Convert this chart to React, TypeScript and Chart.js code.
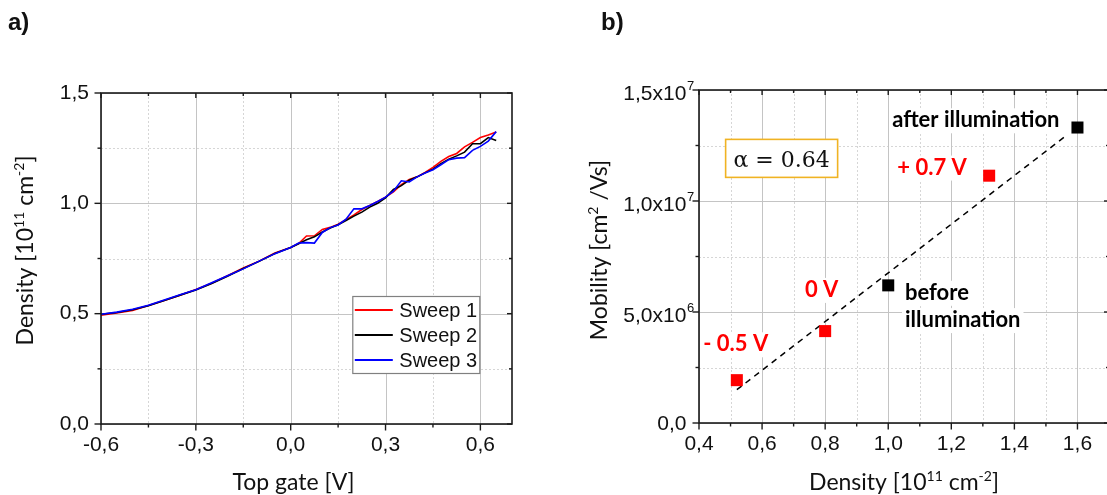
import React, { useEffect, useRef } from "react";
import { Chart, registerables } from "chart.js";

Chart.register(...registerables);

// ---------------- Panel a) data ----------------
const gateVoltage = [
  -0.6, -0.55, -0.5, -0.45, -0.4, -0.35, -0.3, -0.25, -0.2, -0.15, -0.1, -0.05, 0,
  0.025, 0.05, 0.075, 0.1, 0.125, 0.15, 0.175, 0.2, 0.225, 0.25, 0.275, 0.3, 0.325,
  0.35, 0.375, 0.4, 0.425, 0.45, 0.475, 0.5, 0.525, 0.55, 0.575, 0.6, 0.625, 0.65,
];
const sweep1 = [
  0.493, 0.503, 0.515, 0.537, 0.56, 0.583, 0.609, 0.638, 0.672, 0.707, 0.738, 0.775, 0.8,
  0.818, 0.852, 0.853, 0.882, 0.891, 0.905, 0.926, 0.947, 0.972, 0.99, 1.008, 1.028, 1.052,
  1.085, 1.108, 1.12, 1.14, 1.163, 1.19, 1.212, 1.226, 1.256, 1.276, 1.298, 1.31, 1.323,
];
const sweep2 = [
  0.497, 0.505, 0.518, 0.536, 0.56, 0.584, 0.607, 0.637, 0.67, 0.705, 0.737, 0.773, 0.8,
  0.817, 0.835, 0.848, 0.87, 0.888, 0.903, 0.922, 0.942, 0.96, 0.983, 1.0, 1.025, 1.063,
  1.08, 1.105, 1.12, 1.138, 1.155, 1.18, 1.2, 1.215, 1.232, 1.27, 1.27, 1.298, 1.285,
];
const sweep3 = [
  0.497, 0.507, 0.52, 0.538, 0.562, 0.586, 0.608, 0.64, 0.672, 0.703, 0.738, 0.772, 0.8,
  0.82, 0.822, 0.82, 0.868, 0.89, 0.902, 0.928, 0.975, 0.975, 0.99, 1.008, 1.028, 1.055,
  1.102, 1.097, 1.12, 1.137, 1.152, 1.175, 1.198, 1.205, 1.207, 1.24, 1.258, 1.282, 1.325,
];
const sweepLabels = ["Sweep 1", "Sweep 2", "Sweep 3"];
const sweepColors = ["#ff0000", "#000000", "#0000ff"];
const gateMajorTicks = [-0.6, -0.3, 0, 0.3, 0.6];
const gateMinorTicks = [-0.45, -0.15, 0.15, 0.45];
const densityMajorTicksA = [0, 0.5, 1.0, 1.5];
const densityMinorTicksA = [0.25, 0.75, 1.25];

// ---------------- Panel b) data ----------------
const redDensity = [0.52, 0.8, 1.32];
const redMobility = [1.93e6, 4.14e6, 1.114e7];
const blackDensity = [1.0, 1.6];
const blackMobility = [6.2e6, 1.331e7];
const fitDensity = [0.52, 1.56];
const fitMobility = [1.5e6, 1.29e7];
const densityMajorTicksB = [0.4, 0.6, 0.8, 1.0, 1.2, 1.4, 1.6];
const densityMinorTicksB = [0.5, 0.7, 0.9, 1.1, 1.3, 1.5];
const mobilityMajorTicks = [0, 5e6, 1e7, 1.5e7];
const mobilityMinorTicks = [2.5e6, 7.5e6, 1.25e7];
const mobilityTickMantissa = ["0,0", "5,0x10", "1,0x10", "1,5x10"];
const mobilityTickExponent = ["", "6", "7", "7"];

const TICK_FONT = "'Liberation Sans', Arial, sans-serif";
const TITLE_FONT = "Lato, 'Open Sans', sans-serif";
const TICK_SIZE = 21;

type Seg = { t: string; sup?: boolean };

function drawRich(
  ctx: CanvasRenderingContext2D,
  segs: Seg[],
  x: number,
  y: number,
  align: "left" | "center" | "right",
  size: number,
  supSize: number,
  rise: number,
  family: string,
  weight = ""
) {
  const fMain = `${weight} ${size}px ${family}`;
  const fSup = `${weight} ${supSize}px ${family}`;
  let total = 0;
  const widths = segs.map((s) => {
    ctx.font = s.sup ? fSup : fMain;
    const w = ctx.measureText(s.t).width;
    total += w;
    return w;
  });
  let cx = align === "center" ? x - total / 2 : align === "right" ? x - total : x;
  ctx.textAlign = "left";
  ctx.textBaseline = "alphabetic";
  segs.forEach((s, i) => {
    ctx.font = s.sup ? fSup : fMain;
    ctx.fillText(s.t, cx, s.sup ? y - rise : y);
    cx += widths[i];
  });
}

function line(ctx: CanvasRenderingContext2D, x1: number, y1: number, x2: number, y2: number) {
  ctx.beginPath();
  ctx.moveTo(x1, y1);
  ctx.lineTo(x2, y2);
  ctx.stroke();
}

type FrameCfg = {
  id: string;
  xMajor: number[];
  xMinor: number[];
  yMajor: number[];
  yMinor: number[];
  xTitle: Seg[];
  yTitle: Seg[];
  xTitleShift: number;
  xTitleDrop: number;
  yTitleGap: number;
  yTitleShift: number;
  extra?: (chart: any) => void;
};

function makeFramePlugin(cfg: FrameCfg) {
  return {
    id: cfg.id,
    beforeDatasetsDraw(chart: any) {
      const { ctx, chartArea, scales } = chart;
      const { left, right, top, bottom } = chartArea;
      const xs = scales.x;
      const ys = scales.y;
      ctx.save();
      ctx.lineWidth = 1;
      ctx.strokeStyle = "#d6d6d6";
      ctx.setLineDash([2, 2]);
      cfg.xMinor.forEach((v) => {
        const px = Math.round(xs.getPixelForValue(v)) + 0.5;
        line(ctx, px, top, px, bottom);
      });
      cfg.yMinor.forEach((v) => {
        const py = Math.round(ys.getPixelForValue(v)) + 0.5;
        line(ctx, left, py, right, py);
      });
      ctx.setLineDash([]);
      ctx.strokeStyle = "#c4c4c4";
      cfg.xMajor.forEach((v) => {
        const px = Math.round(xs.getPixelForValue(v)) + 0.5;
        line(ctx, px, top, px, bottom);
      });
      cfg.yMajor.forEach((v) => {
        const py = Math.round(ys.getPixelForValue(v)) + 0.5;
        line(ctx, left, py, right, py);
      });
      ctx.restore();
    },
    afterDatasetsDraw(chart: any) {
      const { ctx, chartArea, scales } = chart;
      const { left, right, top, bottom } = chartArea;
      const xs = scales.x;
      const ys = scales.y;
      ctx.save();
      ctx.strokeStyle = "#1a1a1a";
      ctx.lineWidth = 1.6;
      ctx.strokeRect(left, top, right - left, bottom - top);
      ctx.lineWidth = 1.4;
      cfg.xMajor.forEach((v) => {
        const px = xs.getPixelForValue(v);
        line(ctx, px, bottom, px, bottom + 6.5);
        line(ctx, px, top, px, top + 5);
      });
      cfg.xMinor.forEach((v) => {
        const px = xs.getPixelForValue(v);
        line(ctx, px, bottom, px, bottom + 3.5);
        line(ctx, px, top, px, top + 3);
      });
      cfg.yMajor.forEach((v) => {
        const py = ys.getPixelForValue(v);
        line(ctx, left - 6.5, py, left, py);
        line(ctx, right - 5, py, right, py);
      });
      cfg.yMinor.forEach((v) => {
        const py = ys.getPixelForValue(v);
        line(ctx, left - 3.5, py, left, py);
        line(ctx, right - 3, py, right, py);
      });

      ctx.fillStyle = "#111";
      drawRich(
        ctx,
        cfg.xTitle,
        (left + right) / 2 + cfg.xTitleShift,
        bottom + cfg.xTitleDrop,
        "center",
        23,
        14,
        9,
        TITLE_FONT
      );
      ctx.save();
      ctx.translate(left - cfg.yTitleGap, (top + bottom) / 2 + cfg.yTitleShift);
      ctx.rotate(-Math.PI / 2);
      drawRich(ctx, cfg.yTitle, 0, 0, "center", 23, 14, 9, TITLE_FONT);
      ctx.restore();

      if (cfg.extra) cfg.extra(chart);
      ctx.restore();
    },
  };
}

const fmtTick = (v: any) => Number(v).toFixed(1).replace(".", ",");

export default function App() {
  const refA = useRef<HTMLCanvasElement>(null);
  const refB = useRef<HTMLCanvasElement>(null);

  useEffect(() => {
    const sweeps = [sweep1, sweep2, sweep3];

    const legendA = (chart: any) => {
      const { ctx, chartArea } = chart;
      const bx = chartArea.right - 159.7;
      const by = chartArea.top + 203;
      const bw = 127;
      const bh = 77;
      ctx.fillStyle = "#ffffff";
      ctx.fillRect(bx, by, bw, bh);
      ctx.strokeStyle = "#808080";
      ctx.lineWidth = 1.2;
      ctx.strokeRect(bx + 0.5, by + 0.5, bw, bh);
      chart.data.datasets.forEach((ds: any, i: number) => {
        const ry = by + 14 + i * 25;
        ctx.strokeStyle = ds.borderColor;
        ctx.lineWidth = 2;
        line(ctx, bx + 2.5, ry, bx + 40.5, ry);
        ctx.fillStyle = "#111";
        ctx.font = `20px ${TICK_FONT}`;
        ctx.textAlign = "left";
        ctx.textBaseline = "middle";
        ctx.fillText(ds.label, bx + 47, ry + 1);
      });
    };

    const pluginA = makeFramePlugin({
      id: "frameA",
      xMajor: gateMajorTicks,
      xMinor: gateMinorTicks,
      yMajor: densityMajorTicksA,
      yMinor: densityMinorTicksA,
      xTitle: [{ t: "Top gate [V]" }],
      yTitle: [{ t: "Density [10" }, { t: "11", sup: true }, { t: " cm" }, { t: "-2", sup: true }, { t: "]" }],
      xTitleShift: -13,
      xTitleDrop: 65.5,
      yTitleGap: 68,
      yTitleShift: -8,
      extra: legendA,
    });

    const chartA = new Chart(refA.current as HTMLCanvasElement, {
      type: "line",
      data: {
        datasets: sweeps.map((s, i) => ({
          label: sweepLabels[i],
          data: gateVoltage.map((v, j) => ({ x: v, y: s[j] })),
          borderColor: sweepColors[i],
          backgroundColor: sweepColors[i],
          borderWidth: 1.6,
          pointRadius: 0,
          tension: 0,
          fill: false,
          order: 3 - i,
        })),
      },
      options: {
        animation: false,
        responsive: false,
        devicePixelRatio: 1,
        layout: { padding: { left: 0, right: 48, top: 93, bottom: 0 } },
        plugins: { legend: { display: false }, tooltip: { enabled: false } },
        scales: {
          x: {
            type: "linear",
            min: -0.6,
            max: 0.7,
            grid: { display: false, drawTicks: false },
            border: { display: false },
            afterBuildTicks: (axis: any) => {
              axis.ticks = gateMajorTicks.map((v) => ({ value: v }));
            },
            afterFit: (axis: any) => {
              axis.height = 71;
            },
            ticks: {
              autoSkip: false,
              maxRotation: 0,
              padding: 9,
              color: "#111",
              font: { family: TICK_FONT, size: TICK_SIZE },
              callback: fmtTick,
            },
          },
          y: {
            type: "linear",
            min: 0,
            max: 1.5,
            grid: { display: false, drawTicks: false },
            border: { display: false },
            afterBuildTicks: (axis: any) => {
              axis.ticks = densityMajorTicksA.map((v) => ({ value: v }));
            },
            afterFit: (axis: any) => {
              axis.width = 101;
            },
            ticks: {
              autoSkip: false,
              padding: 12,
              color: "#111",
              font: { family: TICK_FONT, size: TICK_SIZE },
              callback: fmtTick,
            },
          },
        },
      },
      plugins: [pluginA],
    } as any);

    const notes = [
      { text: "after illumination", x: 1.543, y: 1.332e7, align: "right", color: "#000000" },
      { text: "+ 0.7 V", x: 1.249, y: 1.119e7, align: "right", color: "#ff0000" },
      { text: "0 V", x: 0.789, y: 5.68e6, align: "center", color: "#ff0000" },
      { text: "- 0.5 V", x: 0.5165, y: 3.23e6, align: "center", color: "#ff0000" },
      { text: "before", x: 1.053, y: 5.55e6, align: "left", color: "#000000" },
      { text: "illumination", x: 1.053, y: 4.32e6, align: "left", color: "#000000" },
    ];

    const extraB = (chart: any) => {
      const { ctx, chartArea, scales } = chart;
      const xs = scales.x;
      const ys = scales.y;
      // y tick labels with superscript exponents
      ctx.fillStyle = "#111";
      mobilityMajorTicks.forEach((v, i) => {
        const py = ys.getPixelForValue(v);
        const mx = chartArea.left - 12.6;
        const exp = mobilityTickExponent[i];
        const base = exp ? py + 10 : py + 7.4;
        ctx.textBaseline = "alphabetic";
        ctx.textAlign = "right";
        ctx.font = `${TICK_SIZE}px ${TICK_FONT}`;
        ctx.fillText(mobilityTickMantissa[i], mx, base);
        if (exp) {
          ctx.textAlign = "left";
          ctx.font = `13px ${TICK_FONT}`;
          ctx.fillText(exp, mx + 0.5, base - 10.5);
        }
      });

      // annotations
      ctx.font = `bold 22px ${TITLE_FONT}`;
      ctx.textBaseline = "alphabetic";
      ctx.textAlign = "left";
      notes.forEach((n) => {
        const px = xs.getPixelForValue(n.x);
        const py = ys.getPixelForValue(n.y);
        const w = ctx.measureText(n.text).width;
        const lx = n.align === "right" ? px - w : n.align === "center" ? px - w / 2 : px;
        ctx.fillStyle = "#ffffff";
        ctx.fillRect(lx - 3, py - 19, w + 6, 25);
        ctx.fillStyle = n.color;
        ctx.fillText(n.text, lx, py);
      });

      // alpha box
      const cx = xs.getPixelForValue(0.662);
      const cy = ys.getPixelForValue(1.192e7);
      const bw = 112;
      const bh = 38;
      ctx.fillStyle = "#ffffff";
      ctx.fillRect(cx - bw / 2, cy - bh / 2, bw, bh);
      ctx.strokeStyle = "#f0b323";
      ctx.lineWidth = 1.6;
      ctx.strokeRect(cx - bw / 2, cy - bh / 2, bw, bh);
      ctx.fillStyle = "#111";
      ctx.font = "22px 'DejaVu Serif', serif";
      ctx.textAlign = "center";
      ctx.fillText("\u03b1 = 0.64", cx, cy + 8.5);
    };

    const pluginB = makeFramePlugin({
      id: "frameB",
      xMajor: densityMajorTicksB,
      xMinor: densityMinorTicksB,
      yMajor: mobilityMajorTicks,
      yMinor: mobilityMinorTicks,
      xTitle: [{ t: "Density [10" }, { t: "11", sup: true }, { t: " cm" }, { t: "-2", sup: true }, { t: "]" }],
      yTitle: [{ t: "Mobility [cm" }, { t: "2", sup: true }, { t: " /Vs]" }],
      xTitleShift: 0,
      xTitleDrop: 67,
      yTitleGap: 92,
      yTitleShift: -6.5,
      extra: extraB,
    });

    const chartB = new Chart(refB.current as HTMLCanvasElement, {
      type: "scatter",
      data: {
        datasets: [
          {
            label: "gate voltage",
            data: redDensity.map((v, j) => ({ x: v, y: redMobility[j] })),
            pointStyle: "rect",
            pointRadius: 8.5,
            backgroundColor: "#ff0000",
            borderColor: "#ff0000",
            borderWidth: 0,
            order: 1,
          },
          {
            label: "illumination",
            data: blackDensity.map((v, j) => ({ x: v, y: blackMobility[j] })),
            pointStyle: "rect",
            pointRadius: 8.5,
            backgroundColor: "#000000",
            borderColor: "#000000",
            borderWidth: 0,
            order: 1,
          },
          {
            type: "line",
            label: "fit",
            data: fitDensity.map((v, j) => ({ x: v, y: fitMobility[j] })),
            borderColor: "#000000",
            borderWidth: 1.5,
            borderDash: [6, 5],
            pointRadius: 0,
            showLine: true,
            fill: false,
            order: 3,
          },
        ],
      },
      options: {
        animation: false,
        responsive: false,
        devicePixelRatio: 1,
        layout: { padding: { left: 0, right: 11, top: 90, bottom: 0 } },
        plugins: { legend: { display: false }, tooltip: { enabled: false } },
        scales: {
          x: {
            type: "linear",
            min: 0.4,
            max: 1.7,
            grid: { display: false, drawTicks: false },
            border: { display: false },
            afterBuildTicks: (axis: any) => {
              axis.ticks = densityMajorTicksB.map((v) => ({ value: v }));
            },
            afterFit: (axis: any) => {
              axis.height = 72;
            },
            ticks: {
              autoSkip: false,
              maxRotation: 0,
              padding: 9,
              color: "#111",
              font: { family: TICK_FONT, size: TICK_SIZE },
              callback: fmtTick,
            },
          },
          y: {
            type: "linear",
            min: 0,
            max: 1.5e7,
            grid: { display: false, drawTicks: false },
            border: { display: false },
            afterBuildTicks: (axis: any) => {
              axis.ticks = mobilityMajorTicks.map((v) => ({ value: v }));
            },
            afterFit: (axis: any) => {
              axis.width = 139;
            },
            ticks: { display: false },
          },
        },
      },
      plugins: [pluginB],
    } as any);

    return () => {
      chartA.destroy();
      chartB.destroy();
    };
  }, []);

  const panelLabel: React.CSSProperties = {
    position: "absolute",
    top: 10,
    font: "bold 24px 'Liberation Sans', Arial, sans-serif",
    lineHeight: "24px",
    color: "#111",
  };

  return (
    <div
      style={{
        position: "absolute",
        left: 0,
        top: 0,
        width: 1107,
        height: 495,
        overflow: "hidden",
        background: "#ffffff",
      }}
    >
      <canvas
        ref={refA}
        width={560}
        height={495}
        style={{ position: "absolute", left: 0, top: 0, width: 560, height: 495 }}
      />
      <canvas
        ref={refB}
        width={560}
        height={495}
        style={{ position: "absolute", left: 560, top: 0, width: 560, height: 495 }}
      />
      <div style={{ ...panelLabel, left: 8 }}>a)</div>
      <div style={{ ...panelLabel, left: 601 }}>b)</div>
    </div>
  );
}
